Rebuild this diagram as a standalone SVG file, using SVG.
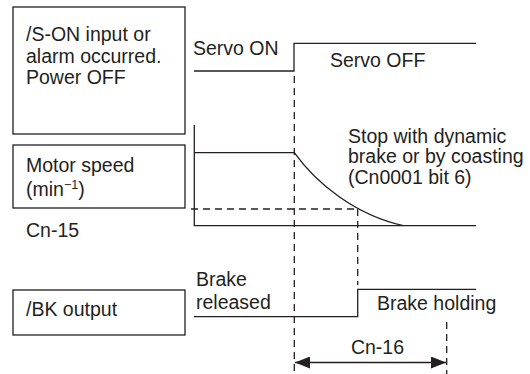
<svg xmlns="http://www.w3.org/2000/svg" width="530" height="374" viewBox="0 0 530 374">
<style>
.box{fill:#fff;stroke:#231f20;stroke-width:1.3}
.ln{fill:none;stroke:#231f20;stroke-width:1.3}
.dash{fill:none;stroke:#231f20;stroke-width:1.3;stroke-dasharray:7 5}
text{font-family:"Liberation Sans",Arial,sans-serif;font-size:19.5px;fill:#231f20}
</style>
<defs>
<marker id="ah" viewBox="0 0 15 12" refX="15" refY="6" markerWidth="15" markerHeight="12" markerUnits="userSpaceOnUse" orient="auto-start-reverse">
<path d="M0,0 L15,6 L0,12 Z" fill="#231f20"/>
</marker>
</defs>
<rect width="530" height="374" fill="#fff"/>
<g id="node-son">
<rect class="box" x="13" y="7" width="172" height="127"/>
<text x="26" y="41">/S-ON input or</text>
<text x="26" y="62.5">alarm occurred.</text>
<text x="26" y="84">Power OFF</text>
</g>
<g id="node-speed">
<rect class="box" x="13" y="145" width="172" height="63"/>
<text x="26" y="172">Motor speed</text>
<text x="26" y="196">(min<tspan font-size="12.5" dy="-7">−1</tspan><tspan dy="7">)</tspan></text>
</g>
<g id="label-cn15"><text x="26" y="237">Cn-15</text></g>
<g id="node-bk">
<rect class="box" x="13" y="290" width="172" height="45"/>
<text x="26" y="316">/BK output</text>
</g>
<g id="labels">
<text x="193" y="55">Servo ON</text>
<text x="330" y="67">Servo OFF</text>
<text x="348" y="143">Stop with dynamic</text>
<text x="348" y="163">brake or by coasting</text>
<text x="348" y="184">(Cn0001 bit 6)</text>
<text x="196" y="286">Brake</text>
<text x="196" y="309">released</text>
<text x="377" y="310">Brake holding</text>
<text x="377.5" y="353.5" text-anchor="middle">Cn-16</text>
</g>
<g id="connectors">
<path class="ln" d="M194,71 H294 V43.3 H476"/>
<path class="ln" d="M194.3,125 V225.7 H476"/>
<path class="ln" d="M194.3,152.7 H294.3 C316,183 355,215 403.3,225.7"/>
<path class="ln" d="M194,316.7 H357.7 V289.3 H476"/>
<path class="dash" d="M294.3,76 V374"/>
<path class="dash" d="M191,209 H357.7"/>
<path class="dash" d="M357.7,209 V285"/>
<path class="dash" d="M446.7,322 V374"/>
<path class="ln" d="M295,362.5 H446" marker-start="url(#ah)" marker-end="url(#ah)"/>
</g>
</svg>
